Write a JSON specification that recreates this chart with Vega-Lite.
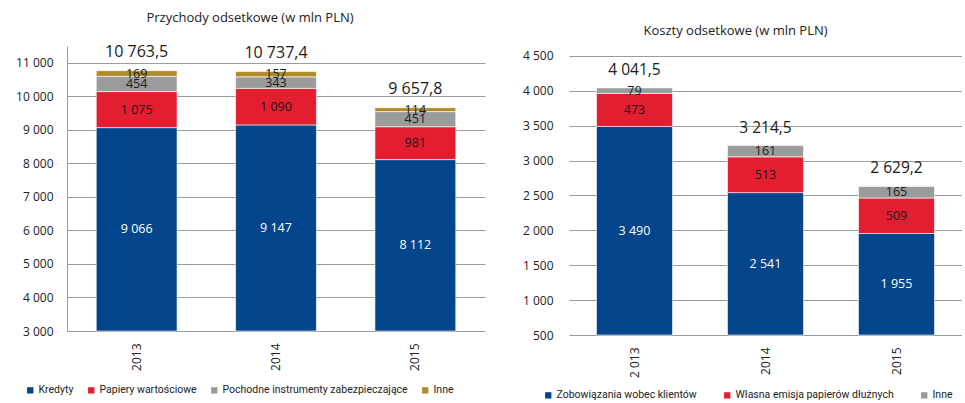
{
  "$schema": "https://vega.github.io/schema/vega-lite/v6.json",
  "padding": {"left": 15, "top": 11, "right": 0, "bottom": 0},
  "bounds": "flush",
  "spacing": 84,
  "config": {
    "locale": {"number": {"decimal": ",", "thousands": " ", "grouping": [3], "currency": ["", ""]}},
    "font": "Open Sans",
    "view": {"stroke": null},
    "axis": {"labelColor": "#222222", "labelFontSize": 12, "labelFont": "Open Sans"},
    "legend": {"labelFont": "Roboto", "labelFontSize": 10.5, "labelColor": "#222222", "symbolType": "square", "symbolSize": 40, "symbolStrokeWidth": 0, "labelOffset": 3, "labelLimit": 400}
  },
  "resolve": {"scale": {"color": "independent", "y": "independent", "x": "independent"}, "legend": {"color": "independent"}},
  "hconcat": [
    {
      "width": 418,
      "height": 285,
      "title": {"text": "Przychody odsetkowe (w mln PLN)", "fontSize": 13, "fontWeight": "normal", "font": "Open Sans", "color": "#222222", "offset": 19, "dx": -26},
      "data": {"values": [
        {"year": "2013", "series": "Kredyty", "order": 1, "value": 9066},
        {"year": "2013", "series": "Papiery wartościowe", "order": 2, "value": 1075},
        {"year": "2013", "series": "Pochodne instrumenty zabezpieczające", "order": 3, "value": 454},
        {"year": "2013", "series": "Inne", "order": 4, "value": 169},
        {"year": "2014", "series": "Kredyty", "order": 1, "value": 9147},
        {"year": "2014", "series": "Papiery wartościowe", "order": 2, "value": 1090},
        {"year": "2014", "series": "Pochodne instrumenty zabezpieczające", "order": 3, "value": 343},
        {"year": "2014", "series": "Inne", "order": 4, "value": 157},
        {"year": "2015", "series": "Kredyty", "order": 1, "value": 8112},
        {"year": "2015", "series": "Papiery wartościowe", "order": 2, "value": 981},
        {"year": "2015", "series": "Pochodne instrumenty zabezpieczające", "order": 3, "value": 451},
        {"year": "2015", "series": "Inne", "order": 4, "value": 114}
      ]},
      "encoding": {
        "x": {"field": "year", "type": "nominal", "scale": {"paddingInner": 0.42, "paddingOuter": 0.21},
              "axis": {"title": null, "labelAngle": -90, "labelAlign": "right", "labelBaseline": "middle", "labelPadding": 12, "ticks": false, "domain": false}}
      },
      "layer": [
        {
          "transform": [{"stack": "value", "groupby": ["year"], "sort": [{"field": "order"}], "as": ["y0", "y1"]}],
          "mark": {"type": "bar", "stroke": "#ffffff", "strokeWidth": 0.6},
          "encoding": {
            "y": {"field": "y1", "type": "quantitative", "scale": {"domain": [3000, 11500], "clamp": true, "nice": false, "zero": false},
                  "axis": {"title": null, "values": [3000, 4000, 5000, 6000, 7000, 8000, 9000, 10000, 11000], "format": ",d", "grid": true, "gridColor": "#9b9b9b", "domain": true, "domainColor": "#9b9b9b", "ticks": false, "labelPadding": 14}},
            "y2": {"field": "y0"},
            "color": {"field": "series", "type": "nominal",
                      "scale": {"domain": ["Kredyty", "Papiery wartościowe", "Pochodne instrumenty zabezpieczające", "Inne"], "range": ["#02458b", "#e31e30", "#9b9b9b", "#b08a28"]},
                      "legend": {"title": null, "orient": "none", "direction": "horizontal", "legendX": -42, "legendY": 339, "columnPadding": 12}}
          }
        },
        {
          "transform": [
            {"stack": "value", "groupby": ["year"], "sort": [{"field": "order"}], "as": ["y0", "y1"]},
            {"calculate": "(max(datum.y0, 3000) + datum.y1) / 2", "as": "mid"}
          ],
          "mark": {"type": "text", "fontSize": 12.5, "font": "Open Sans"},
          "encoding": {
            "y": {"field": "mid", "type": "quantitative",
                  "axis": {"title": null, "values": [3000, 4000, 5000, 6000, 7000, 8000, 9000, 10000, 11000], "format": ",d", "grid": true, "gridColor": "#9b9b9b", "domain": true, "domainColor": "#9b9b9b", "ticks": false, "labelPadding": 14}},
            "text": {"field": "value", "type": "quantitative", "format": ",d"},
            "color": {"condition": {"test": "datum.order === 1", "value": "#ffffff"}, "value": "#1a1a1a"}
          }
        },
        {
          "data": {"values": [
            {"year": "2013", "total": 10763.5},
            {"year": "2014", "total": 10737.4},
            {"year": "2015", "total": 9657.8}
          ]},
          "mark": {"type": "text", "fontSize": 16, "dy": -19, "font": "Open Sans", "color": "#1a1a1a"},
          "encoding": {
            "y": {"field": "total", "type": "quantitative",
                  "axis": {"title": null, "values": [3000, 4000, 5000, 6000, 7000, 8000, 9000, 10000, 11000], "format": ",d", "grid": true, "gridColor": "#9b9b9b", "domain": true, "domainColor": "#9b9b9b", "ticks": false, "labelPadding": 14}},
            "text": {"field": "total", "type": "quantitative", "format": ",.1f"}
          }
        }
      ]
    },
    {
      "width": 393,
      "height": 289,
      "title": {"text": "Koszty odsetkowe (w mln PLN)", "fontSize": 13, "fontWeight": "normal", "font": "Open Sans", "color": "#222222", "offset": 8, "dx": -30},
      "data": {"values": [
        {"year": "2 013", "series": "Zobowiązania wobec klientów", "order": 1, "value": 3490},
        {"year": "2 013", "series": "Własna emisja papierów dłużnych", "order": 2, "value": 473},
        {"year": "2 013", "series": "Inne", "order": 3, "value": 79},
        {"year": "2014", "series": "Zobowiązania wobec klientów", "order": 1, "value": 2541},
        {"year": "2014", "series": "Własna emisja papierów dłużnych", "order": 2, "value": 513},
        {"year": "2014", "series": "Inne", "order": 3, "value": 161},
        {"year": "2015", "series": "Zobowiązania wobec klientów", "order": 1, "value": 1955},
        {"year": "2015", "series": "Własna emisja papierów dłużnych", "order": 2, "value": 509},
        {"year": "2015", "series": "Inne", "order": 3, "value": 165}
      ]},
      "encoding": {
        "x": {"field": "year", "type": "nominal", "sort": null, "scale": {"paddingInner": 0.42, "paddingOuter": 0.21},
              "axis": {"title": null, "labelAngle": -90, "labelAlign": "right", "labelBaseline": "middle", "labelPadding": 12, "ticks": false, "domain": false}}
      },
      "layer": [
        {
          "transform": [{"stack": "value", "groupby": ["year"], "sort": [{"field": "order"}], "as": ["y0", "y1"]}],
          "mark": {"type": "bar", "stroke": "#ffffff", "strokeWidth": 0.6},
          "encoding": {
            "y": {"field": "y1", "type": "quantitative", "scale": {"domain": [500, 4643], "clamp": true, "nice": false, "zero": false},
                  "axis": {"title": null, "values": [500, 1000, 1500, 2000, 2500, 3000, 3500, 4000, 4500], "format": ",d", "grid": true, "gridColor": "#9b9b9b", "domain": false, "ticks": false, "labelPadding": 16}},
            "y2": {"field": "y0"},
            "color": {"field": "series", "type": "nominal",
                      "scale": {"domain": ["Zobowiązania wobec klientów", "Własna emisja papierów dłużnych", "Inne"], "range": ["#02458b", "#e31e30", "#9b9b9b"]},
                      "legend": {"title": null, "orient": "none", "direction": "horizontal", "legendX": -26, "legendY": 344, "columnPadding": 25}}
          }
        },
        {
          "transform": [
            {"stack": "value", "groupby": ["year"], "sort": [{"field": "order"}], "as": ["y0", "y1"]},
            {"calculate": "(max(datum.y0, 500) + datum.y1) / 2", "as": "mid"}
          ],
          "mark": {"type": "text", "fontSize": 12.5, "font": "Open Sans"},
          "encoding": {
            "y": {"field": "mid", "type": "quantitative",
                  "axis": {"title": null, "values": [500, 1000, 1500, 2000, 2500, 3000, 3500, 4000, 4500], "format": ",d", "grid": true, "gridColor": "#9b9b9b", "domain": false, "ticks": false, "labelPadding": 16}},
            "text": {"field": "value", "type": "quantitative", "format": ",d"},
            "color": {"condition": {"test": "datum.order === 1", "value": "#ffffff"}, "value": "#1a1a1a"}
          }
        },
        {
          "data": {"values": [
            {"year": "2 013", "total": 4041.5},
            {"year": "2014", "total": 3214.5},
            {"year": "2015", "total": 2629.2}
          ]},
          "mark": {"type": "text", "fontSize": 15.5, "dy": -18, "font": "Open Sans", "color": "#1a1a1a"},
          "encoding": {
            "y": {"field": "total", "type": "quantitative",
                  "axis": {"title": null, "values": [500, 1000, 1500, 2000, 2500, 3000, 3500, 4000, 4500], "format": ",d", "grid": true, "gridColor": "#9b9b9b", "domain": false, "ticks": false, "labelPadding": 16}},
            "text": {"field": "total", "type": "quantitative", "format": ",.1f"}
          }
        }
      ]
    }
  ]
}
